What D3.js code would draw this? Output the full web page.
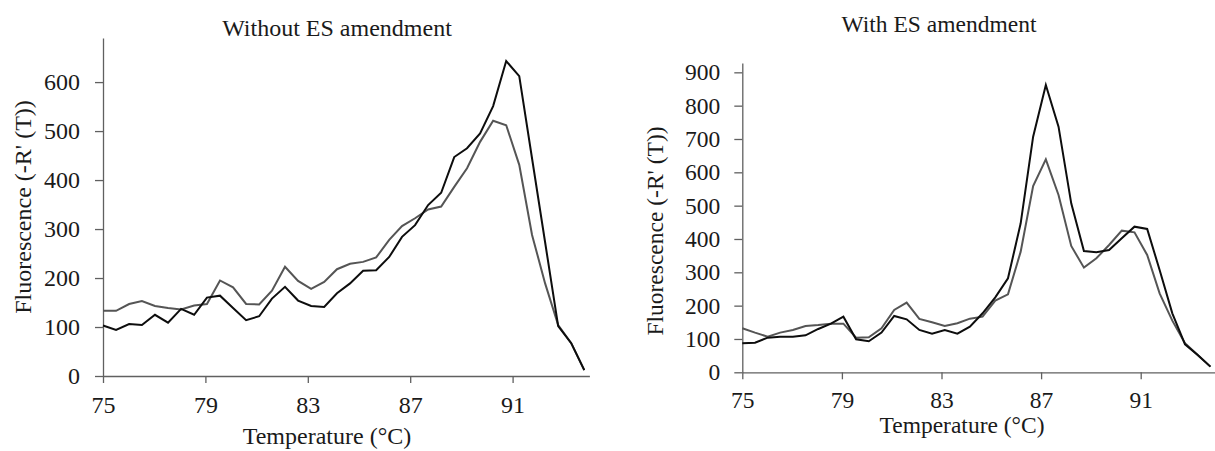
<!DOCTYPE html>
<html>
<head>
<meta charset="utf-8">
<script src="https://cdn.jsdelivr.net/npm/d3@7"></script>
<style>
body { margin: 0; background: #fff; }
svg { display: block; }
text { font-family: "Liberation Serif", "Times New Roman", serif; }
</style>
</head>
<body>
<svg width="1215" height="451"></svg>
<script>
// melt temperatures (°C), same for both panels
var temps = [75.00, 75.51, 76.02, 76.52, 77.03, 77.54, 78.05, 78.56, 79.06, 79.57,
    80.08, 80.59, 81.10, 81.60, 82.11, 82.62, 83.13, 83.64, 84.14, 84.65,
    85.16, 85.67, 86.18, 86.68, 87.19, 87.70, 88.21, 88.72, 89.22, 89.73,
    90.24, 90.75, 91.26, 91.76, 92.27, 92.78, 93.29, 93.80];

// Without ES amendment
var withoutBlack = [103, 94, 106, 104, 125, 109, 137, 125, 160, 164,
    139, 114, 122, 158, 182, 154, 143, 141, 169, 189,
    215, 216, 243, 284, 308, 349, 374, 447, 465, 495,
    551, 643, 612, 444, 273, 102, 67, 12];
var withoutGray = [133, 133, 147, 153, 143, 139, 136, 144, 147, 195,
    181, 147, 146, 174, 223, 194, 178, 192, 218, 229,
    233, 242, 278, 306, 322, 340, 346, 386, 424, 478,
    521, 512, 431, 288, 189, 104, 67, 12];

// With ES amendment
var withBlack = [87, 89, 104, 107, 107, 111, 130, 146, 167, 99,
    93, 119, 169, 159, 127, 116, 127, 116, 137, 177,
    225, 282, 447, 707, 862, 737, 507, 364, 360, 367,
    402, 437, 430, 307, 177, 84, 52, 17];
var withGray = [132, 119, 107, 119, 127, 139, 142, 146, 146, 104,
    105, 132, 187, 209, 160, 150, 139, 147, 161, 167,
    215, 234, 362, 559, 639, 532, 379, 314, 342, 382,
    425, 420, 352, 237, 155, 87, 52, 17];

var xTicks = [75, 79, 83, 87, 91];
var yTicksWithout = [0, 100, 200, 300, 400, 500, 600];
var yTicksWith = [0, 100, 200, 300, 400, 500, 600, 700, 800, 900];

var svg = d3.select("svg");
svg.append("rect").attr("width", 1215).attr("height", 451).attr("fill", "#fff");

function drawChart(o) {
    var x = d3.scaleLinear().domain([75, 94]).range([o.left, o.left + 19 * o.perDeg]);
    var y = d3.scaleLinear().domain([0, o.yMax]).range([o.bottom, o.top]);
    var g = svg.append("g");

    g.append("g")
        .attr("transform", "translate(" + o.left + ",0)")
        .call(d3.axisLeft(y).tickValues(o.yTicks).tickSize(8).tickSizeOuter(0).tickPadding(o.yPad));
    g.append("g")
        .attr("transform", "translate(0," + o.bottom + ")")
        .call(d3.axisBottom(x).tickValues(xTicks).tickSize(7).tickSizeOuter(0).tickPadding(o.xPad));

    // drop d3's default sans-serif 10px on the axis groups
    g.selectAll("g").attr("font-family", null).attr("font-size", null);
    g.selectAll(".domain, .tick line").attr("stroke", "#606060").attr("stroke-width", 1.3);
    g.selectAll(".tick text")
        .attr("fill", "#1a1a1a")
        .attr("font-size", o.fontSize);

    var line = d3.line()
        .x(function (d, i) { return x(temps[i]); })
        .y(function (d) { return y(d); });

    g.append("path").datum(o.gray).attr("d", line)
        .attr("fill", "none").attr("stroke", "#555").attr("stroke-width", 2);
    g.append("path").datum(o.black).attr("d", line)
        .attr("fill", "none").attr("stroke", "#0d0d0d").attr("stroke-width", 2);

    g.append("text").attr("x", o.titleX).attr("y", o.titleY)
        .attr("text-anchor", "middle").attr("fill", "#1a1a1a")
        .attr("font-size", o.fontSize).text(o.title);
    g.append("text").attr("x", o.xLabelX).attr("y", o.xLabelY)
        .attr("text-anchor", "middle").attr("fill", "#1a1a1a")
        .attr("font-size", o.fontSize).text("Temperature (°C)");
    g.append("text")
        .attr("transform", "translate(" + o.yLabelX + "," + o.yLabelY + ") rotate(-90)")
        .attr("text-anchor", "middle").attr("fill", "#1a1a1a")
        .attr("font-size", o.fontSize).text("Fluorescence (-R' (T))");
}

drawChart({
    title: "Without ES amendment", black: withoutBlack, gray: withoutGray, yTicks: yTicksWithout,
    left: 103, perDeg: 25.6, bottom: 376, top: 38, yMax: 690,
    fontSize: 24, yPad: 15, xPad: 13,
    titleX: 337, titleY: 36, xLabelX: 327, xLabelY: 444, yLabelX: 31, yLabelY: 207
});
drawChart({
    title: "With ES amendment", black: withBlack, gray: withGray, yTicks: yTicksWith,
    left: 742.3, perDeg: 24.9, bottom: 372.3, top: 63, yMax: 928,
    fontSize: 23.5, yPad: 14, xPad: 12,
    titleX: 939, titleY: 32, xLabelX: 962, xLabelY: 433, yLabelX: 663, yLabelY: 231
});
</script>
</body>
</html>
